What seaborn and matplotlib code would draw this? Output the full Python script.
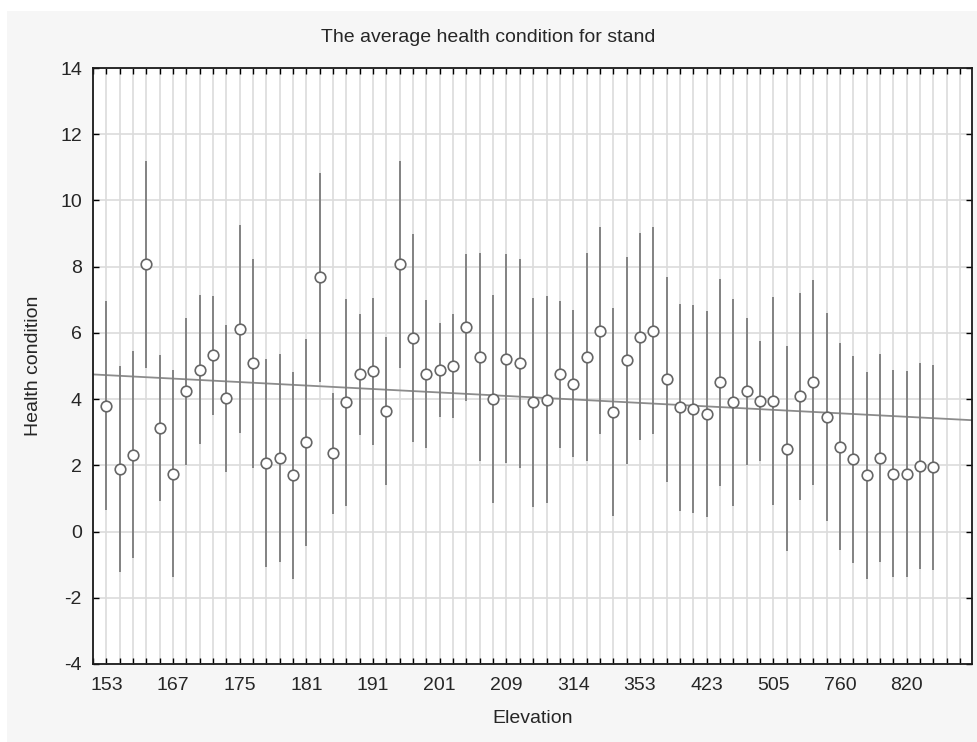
import numpy as np
import pandas as pd
import matplotlib
matplotlib.use("Agg")
import matplotlib.pyplot as plt
from matplotlib.ticker import FixedLocator, MultipleLocator, NullFormatter
from matplotlib.patches import Rectangle
import seaborn as sns

# Mean health condition for each elevation class (left to right)
health_mean = [3.80, 1.89, 2.32, 8.07, 3.12, 1.75, 4.23, 4.89, 5.32, 4.03,
               6.12, 5.08, 2.07, 2.22, 1.70, 2.69, 7.68, 2.36, 3.90, 4.75,
               4.84, 3.65, 8.07, 5.84, 4.75, 4.89, 4.99, 6.17, 5.27, 4.00,
               5.22, 5.08, 3.90, 3.98, 4.75, 4.46, 5.27, 6.07, 3.60, 5.17,
               5.89, 6.07, 4.60, 3.75, 3.70, 3.55, 4.51, 3.90, 4.23, 3.94,
               3.94, 2.50, 4.08, 4.51, 3.46, 2.56, 2.18, 1.70, 2.22, 1.75,
               1.75, 1.99, 1.94]

# Half-width of the interval drawn around each mean
health_err = [3.15, 3.10, 3.13, 3.13, 2.21, 3.13, 2.23, 2.25, 1.80, 2.22,
              3.13, 3.15, 3.15, 3.13, 3.13, 3.12, 3.15, 1.82, 3.13, 1.83,
              2.22, 2.24, 3.13, 3.15, 2.23, 1.42, 1.57, 2.22, 3.13, 3.13,
              3.15, 3.15, 3.15, 3.13, 2.22, 2.22, 3.14, 3.13, 3.14, 3.13,
              3.13, 3.13, 3.10, 3.13, 3.13, 3.10, 3.12, 3.12, 2.23, 1.80,
              3.13, 3.10, 3.13, 3.10, 3.13, 3.12, 3.13, 3.12, 3.13, 3.13,
              3.11, 3.11, 3.10]

# Elevation labels shown on every fifth class
elevation_labels = ["153", "167", "175", "181", "191", "201", "209",
                    "314", "353", "423", "505", "760", "820"]
label_step = 5

df = pd.DataFrame({"pos": np.arange(len(health_mean)),
                   "mean": health_mean,
                   "err": health_err})

sns.set_theme(style="white")
plt.rcParams["font.family"] = ["Liberation Sans", "DejaVu Sans"]
plt.rcParams["axes.unicode_minus"] = False
text_color = "#262626"

fig = plt.figure(figsize=(9.77, 7.42), dpi=100, facecolor="white")
fig.patches.append(Rectangle((7 / 977, -0.01), 1.01, 1.01 - 11 / 742,
                             transform=fig.transFigure, facecolor="#f6f6f6",
                             edgecolor="none", zorder=-10))

ax = fig.add_axes([93 / 977, 1 - 664 / 742, (972 - 93) / 977, (664 - 68) / 742])
ax.set_facecolor("white")
ax.set_xlim(-1, 64.9)
ax.set_ylim(-4, 14)

# Linear trend of the class means across the whole axis
sns.regplot(data=df, x="pos", y="mean", scatter=False, ci=None, truncate=False,
            color="#8c8c8c", line_kws=dict(lw=1.3, zorder=2), ax=ax)

ax.errorbar(df["pos"], df["mean"], yerr=df["err"], fmt="none",
            ecolor="#7c7c7c", elinewidth=1.3, capsize=0, zorder=3)

sns.scatterplot(data=df, x="pos", y="mean", ax=ax, marker="o", s=58,
                facecolor="white", edgecolor="#666666", linewidth=1.2,
                zorder=4, legend=False)

ax.set_xlim(-1, 64.9)
ax.set_ylim(-4, 14)

# Ticks: one minor tick per class, labelled major ticks every fifth class
ax.xaxis.set_major_locator(FixedLocator(np.arange(len(elevation_labels)) * label_step))
ax.set_xticklabels(elevation_labels)
ax.xaxis.set_minor_locator(MultipleLocator(1))
ax.xaxis.set_minor_formatter(NullFormatter())
ax.set_yticks(np.arange(-4, 15, 2))

ax.tick_params(axis="both", which="both", direction="in", length=4, width=1,
               color="black", top=True, bottom=True, left=True, right=True,
               labelsize=14, labelcolor=text_color)
ax.tick_params(axis="x", which="major", pad=9)
ax.tick_params(axis="y", which="major", pad=8)

ax.grid(True, axis="x", which="both", color="#dcdcdc", lw=1.2, zorder=0)
ax.grid(True, axis="y", which="major", color="#dcdcdc", lw=1.2, zorder=0)
ax.set_axisbelow(True)

for spine in ax.spines.values():
    spine.set_visible(True)
    spine.set_color("#1a1a1a")
    spine.set_linewidth(1.3)

ax.set_xlabel("Elevation", fontsize=14, color=text_color, labelpad=12)
ax.set_ylabel("Health condition", fontsize=14, color=text_color, labelpad=13)
fig.text(0.5, 1 - 38 / 742, "The average health condition for stand",
         ha="center", va="center", fontsize=14, color=text_color)

fig.savefig("out.png", dpi=100, facecolor=fig.get_facecolor())
